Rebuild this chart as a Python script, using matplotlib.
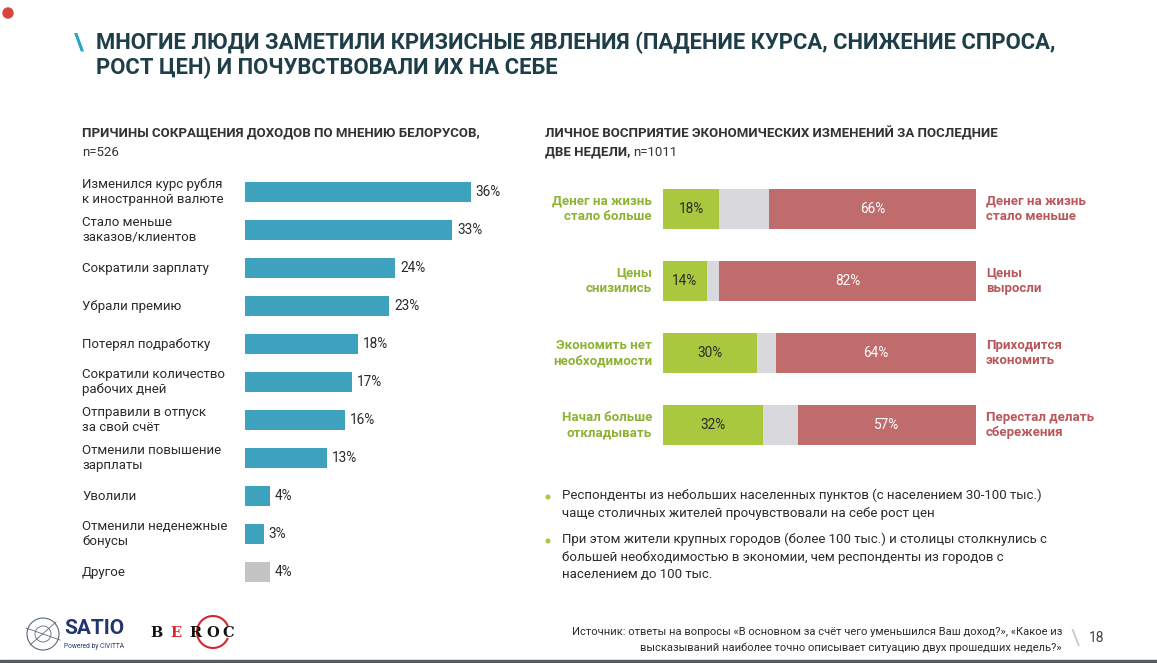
import numpy as np
import matplotlib
matplotlib.use("Agg")
import matplotlib.pyplot as plt
from matplotlib.patches import Ellipse, Arc, Rectangle

plt.rcParams['font.family'] = ['Roboto', 'DejaVu Sans']

# ---- data ----
reasons = ["Изменился курс рубля\nк иностранной валюте", "Стало меньше\nзаказов/клиентов",
           "Сократили зарплату", "Убрали премию", "Потерял подработку",
           "Сократили количество\nрабочих дней", "Отправили в отпуск\nза свой счёт",
           "Отменили повышение\nзарплаты", "Уволили", "Отменили неденежные\nбонусы", "Другое"]
reason_pct = [36, 33, 24, 23, 18, 17, 16, 13, 4, 3, 4]

left_labels = ["Денег на жизнь\nстало больше", "Цены\nснизились",
               "Экономить нет\nнеобходимости", "Начал больше\nоткладывать"]
right_labels = ["Денег на жизнь\nстало меньше", "Цены\nвыросли",
                "Приходится\nэкономить", "Перестал делать\nсбережения"]
positive = [18, 14, 30, 32]
neutral = [16, 4, 6, 11]
negative = [66, 82, 64, 57]

bullets = ["Респонденты из небольших населенных пунктов (с населением 30-100 тыс.)\nчаще столичных жителей прочувствовали на себе рост цен",
           "При этом жители крупных городов (более 100 тыс.) и столицы столкнулись с\nбольшей необходимостью в экономии, чем респонденты из городов с\nнаселением до 100 тыс."]

W, H = 1157, 663
BLUE = "#3EA1BE"
GREEN = "#A9C83D"
GREEN_T = "#8DB234"
GRAY = "#D9D8DD"
RED = "#C06C6C"
RED_T = "#B9575A"
DARK = "#2B2B2B"
TITLE = "#1E3E48"

fig = plt.figure(figsize=(W / 100, H / 100), dpi=100)
fig.patch.set_facecolor("white")


def fx(x):
    return x / W


def fy(y):
    return 1 - y / H


def box(x0, y0, x1, y1):
    return [fx(x0), fy(y1), (x1 - x0) / W, (y1 - y0) / H]


def circ(x, y, r, **kw):
    return Ellipse((fx(x), fy(y)), 2 * r / W, 2 * r / H, transform=fig.transFigure, **kw)


# ---- title ----
fig.text(fx(74), fy(43), "\\", color="#2AA5C2", fontsize=16.5, fontweight="bold", va="center")
fig.text(fx(96), fy(43), "МНОГИЕ ЛЮДИ ЗАМЕТИЛИ КРИЗИСНЫЕ ЯВЛЕНИЯ (ПАДЕНИЕ КУРСА, СНИЖЕНИЕ СПРОСА,",
         color=TITLE, fontsize=15.8, fontweight="bold", va="center")
fig.text(fx(96), fy(68), "РОСТ ЦЕН) И ПОЧУВСТВОВАЛИ ИХ НА СЕБЕ",
         color=TITLE, fontsize=15.8, fontweight="bold", va="center")
fig.patches.append(circ(8, 13, 5, color="#D9453E"))

# ---- left chart ----
fig.text(fx(82), fy(133), "ПРИЧИНЫ СОКРАЩЕНИЯ ДОХОДОВ ПО МНЕНИЮ БЕЛОРУСОВ,",
         color="#333333", fontsize=9.5, fontweight="bold", va="center")
fig.text(fx(82), fy(152), "n=526", color="#333333", fontsize=9.5, va="center")

ax1 = fig.add_axes(box(245, 170, 520, 590))
y = np.arange(len(reasons))
colors = [BLUE] * (len(reasons) - 1) + ["#C4C4C4"]
ax1.barh(y, reason_pct, height=0.53, color=colors)
ax1.set_xlim(0, 275 / 6.27)
ax1.set_ylim(10.47, -0.58)
ax1.axis("off")
for i, (lab, v) in enumerate(zip(reasons, reason_pct)):
    ax1.text(v + 0.8, i, f"{v}%", va="center", ha="left", fontsize=9.8, color=DARK)
    ax1.text((82 - 245) / 275, i, lab, transform=ax1.get_yaxis_transform(),
             va="center", ha="left", fontsize=9.5, color=DARK, linespacing=1.25)

# ---- right chart ----
fig.text(fx(545), fy(133), "ЛИЧНОЕ ВОСПРИЯТИЕ ЭКОНОМИЧЕСКИХ ИЗМЕНЕНИЙ ЗА ПОСЛЕДНИЕ",
         color="#333333", fontsize=9.5, fontweight="bold", va="center")
t = fig.text(fx(545), fy(152), "ДВЕ НЕДЕЛИ, ", color="#333333", fontsize=9.5,
             fontweight="bold", va="center")
fig.canvas.draw()
bb = t.get_window_extent()
fig.text(bb.x1 / W, fy(152), "n=1011", color="#333333", fontsize=9.5, va="center")

ax2 = fig.add_axes(box(663, 180, 976, 455))
y2 = np.arange(len(positive))
pos = np.array(positive)
neu = np.array(neutral)
neg = np.array(negative)
ax2.barh(y2, pos, height=0.556, color=GREEN)
ax2.barh(y2, neu, left=pos, height=0.556, color=GRAY)
ax2.barh(y2, neg, left=pos + neu, height=0.556, color=RED)
ax2.set_xlim(0, 100)
ax2.set_ylim(3.42, -0.40)
ax2.axis("off")
for i in range(len(positive)):
    ax2.text(pos[i] / 2, i, f"{pos[i]}%", ha="center", va="center", fontsize=9.8, color=DARK)
    ax2.text(pos[i] + neu[i] + neg[i] / 2, i, f"{neg[i]}%", ha="center", va="center",
             fontsize=9.8, color="white")
    ax2.text(-0.035, i, left_labels[i], transform=ax2.get_yaxis_transform(), ha="right",
             va="center", fontsize=9.5, fontweight="bold", color=GREEN_T, linespacing=1.25)
    ax2.text(1.032, i, right_labels[i], transform=ax2.get_yaxis_transform(), ha="left",
             va="center", fontsize=9.5, fontweight="bold", color=RED_T, linespacing=1.25)

# ---- bullets ----
for yb, txt in zip([497, 541], bullets):
    fig.patches.append(circ(548, yb, 1.8, color=GREEN))
    fig.text(fx(562), fy(yb - 8), txt, color=DARK, fontsize=9.5, va="top", linespacing=1.45)

# ---- footer ----
fig.text(fx(1062), fy(632), "Источник: ответы на вопросы «В основном за счёт чего уменьшился Ваш доход?», «Какое из",
         ha="right", va="center", fontsize=8.05, color=DARK)
fig.text(fx(1062), fy(648), "высказываний наиболее точно описывает ситуацию двух прошедших недель?»",
         ha="right", va="center", fontsize=8.05, color=DARK)
fig.text(fx(1071), fy(639), "\\", ha="left", va="center", fontsize=16, color="#C8C8C8")
fig.text(fx(1089), fy(638), "18", ha="left", va="center", fontsize=10, color="#444444")

# logos (approximation)
fig.patches.append(circ(43, 634, 16, fill=False, ec="#5A6A7A", lw=0.8))
fig.patches.append(circ(43, 634, 8, fill=False, ec="#5A6A7A", lw=0.6))
fig.lines.append(plt.Line2D([fx(26), fx(60)], [fy(628), fy(640)], transform=fig.transFigure,
                            color="#5A6A7A", lw=0.6))
fig.lines.append(plt.Line2D([fx(30), fx(56)], [fy(645), fy(622)], transform=fig.transFigure,
                            color="#5A6A7A", lw=0.6))
fig.text(fx(64), fy(629), "SATIO", ha="left", va="center", fontsize=15, fontweight="bold", color="#22356E")
fig.text(fx(64), fy(646), "Powered by CIVITTA", ha="left", va="center", fontsize=4.8, color="#22356E")
for xl, ch, c in zip([150, 170, 189, 206, 222], "BEROC",
                     ["#111111", "#D7262E", "#111111", "#111111", "#111111"]):
    fig.text(fx(xl), fy(633), ch, ha="left", va="center", fontsize=10.5, family="DejaVu Serif",
             fontweight="bold", color=c)
fig.patches.append(Arc((fx(213), fy(632)), 32 / W, 32 / H, theta1=35, theta2=325,
                       transform=fig.transFigure, color="#D7262E", lw=1.5))

fig.patches.append(Rectangle((0, 0), 1, 3 / H, transform=fig.transFigure, color="#555B60"))

fig.savefig("out.png", dpi=100)
